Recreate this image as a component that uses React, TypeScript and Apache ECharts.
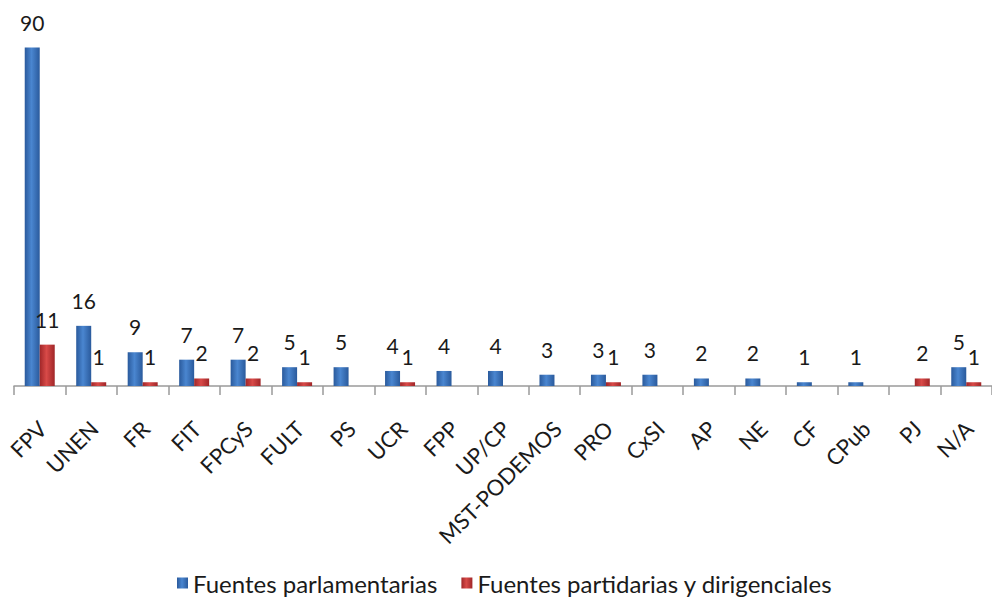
import React, { useEffect, useRef } from "react";
import * as echarts from "echarts";

const categories = ["FPV", "UNEN", "FR", "FIT", "FPCyS", "FULT", "PS", "UCR", "FPP", "UP/CP", "MST-PODEMOS", "PRO", "CxSI", "AP", "NE", "CF", "CPub", "PJ", "N/A"];
const parlamentarias = [90, 16, 9, 7, 7, 5, 5, 4, 4, 4, 3, 3, 3, 2, 2, 1, 1, 0, 5];
const partidarias = [11, 1, 1, 2, 2, 1, 0, 1, 0, 0, 0, 1, 0, 0, 0, 0, 0, 2, 1];
const seriesNames = ["Fuentes parlamentarias", "Fuentes partidarias y dirigenciales"];

const FONT = "Lato";

function grad(dark: string, light: string) {
  return new echarts.graphic.LinearGradient(0, 0, 1, 0, [
    { offset: 0, color: dark },
    { offset: 0.45, color: light },
    { offset: 1, color: dark },
  ]);
}

export default function App() {
  const ref = useRef<HTMLDivElement>(null);
  useEffect(() => {
    document.body.style.margin = "0";
    const chart = echarts.init(ref.current!, null, { renderer: "svg" });
    const label = {
      show: true,
      position: "top" as const,
      distance: 15,
      fontFamily: FONT,
      fontSize: 21,
      color: "#1a1a1a",
      formatter: (p: any) => (p.value === 0 ? "" : String(p.value)),
    };
    chart.setOption({
      animation: false,
      backgroundColor: "#ffffff",
      grid: { left: 14, right: -8, top: 10, bottom: 213, containLabel: false },
      legend: {
        top: 570,
        left: 177,
        padding: 0,
        itemWidth: 11,
        itemHeight: 11,
        itemGap: 24,
        icon: "rect",
        textStyle: { fontFamily: FONT, fontSize: 24, color: "#1a1a1a", lineHeight: 26 },
        data: seriesNames,
      },
      xAxis: {
        type: "category",
        data: categories,
        axisLine: { lineStyle: { color: "#9a9a9a", width: 1.5 } },
        axisTick: { show: true, length: 9, lineStyle: { color: "#9a9a9a", width: 1.5 } },
        axisLabel: {
          rotate: 45,
          interval: 0,
          margin: 26,
          padding: [0, 7, 0, 0],
          align: "right",
          verticalAlign: "top",
          fontFamily: FONT,
          fontSize: 22,
          color: "#1a1a1a",
        },
      },
      yAxis: {
        type: "value",
        min: 0,
        max: 100,
        show: false,
        splitLine: { show: false },
      },
      series: [
        {
          name: seriesNames[0],
          type: "bar",
          data: parlamentarias,
          barWidth: 15,
          barGap: "0%",
          itemStyle: { color: grad("#2a5a9c", "#4a86d0") },
          label,
        },
        {
          name: seriesNames[1],
          type: "bar",
          data: partidarias,
          barWidth: 15,
          barGap: "0%",
          itemStyle: { color: grad("#a02628", "#d84a48") },
          label,
        },
      ],
    });
    return () => chart.dispose();
  }, []);
  return <div ref={ref} style={{ width: 992, height: 599 }} />;
}
